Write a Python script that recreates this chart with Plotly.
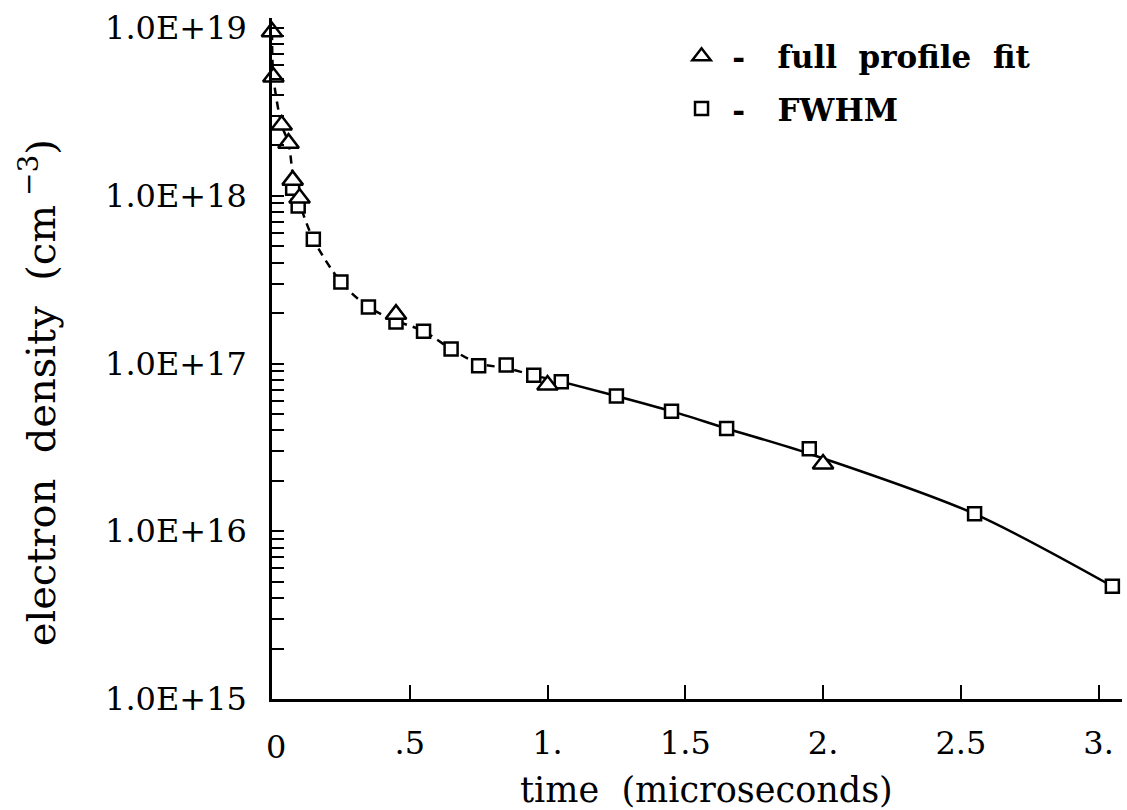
import plotly.graph_objects as go

# ---- data ----
tri_t = [0.0, 0.005, 0.035, 0.06, 0.075, 0.1, 0.45, 1.0, 2.0]
tri_n = [9.5e18, 5.1e18, 2.64e18, 2.06e18, 1.24e18, 9.7e17, 1.97e17, 7.45e16, 2.52e16]

sq_t = [0.075, 0.095, 0.15, 0.25, 0.35, 0.45, 0.55, 0.65, 0.75, 0.85, 0.95,
        1.05, 1.25, 1.45, 1.65, 1.95, 2.55, 3.05]
sq_n = [1.11e18, 8.7e17, 5.5e17, 3.06e17, 2.17e17, 1.77e17, 1.56e17, 1.22e17,
        9.7e16, 9.8e16, 8.5e16, 7.8e16, 6.4e16, 5.2e16, 4.1e16, 3.1e16, 1.27e16, 4.7e15]

# fitted curve (dashed part, then solid part)
fit1_t = [0.0, 0.005, 0.035, 0.06, 0.08, 0.1, 0.15, 0.25, 0.35, 0.45, 0.55,
          0.65, 0.75, 0.85, 0.95, 1.05]
fit1_n = [9.5e18, 5.1e18, 2.64e18, 2.06e18, 1.17e18, 9.0e17, 5.5e17, 3.06e17,
          2.17e17, 1.8e17, 1.56e17, 1.22e17, 1.0e17, 9.4e16, 8.5e16, 7.8e16]
fit2_t = [1.05, 1.25, 1.45, 1.65, 1.95, 2.55, 3.05]
fit2_n = [7.8e16, 6.4e16, 5.2e16, 4.1e16, 2.9e16, 1.27e16, 4.7e15]

y_tickvals = [1e15, 1e16, 1e17, 1e18, 1e19]
y_ticktext = ["1.0E+15", "1.0E+16", "1.0E+17", "1.0E+18", "1.0E+19"]
x_tickvals = [0, 0.5, 1.0, 1.5, 2.0, 2.5, 3.0]
x_ticktext = ["0", ".5", "1.", "1.5", "2.", "2.5", "3."]

FONT = "DejaVu Serif"
NB = "\u00a0"

fig = go.Figure()
fig.add_trace(go.Scatter(x=fit1_t, y=fit1_n, mode="lines", showlegend=False,
                         line=dict(color="black", width=2.5, dash="8px,6px", shape="spline",
                                   smoothing=0.8),
                         hoverinfo="skip"))
fig.add_trace(go.Scatter(x=fit2_t, y=fit2_n, mode="lines", showlegend=False,
                         line=dict(color="black", width=2.5, shape="spline", smoothing=0.8),
                         hoverinfo="skip"))
fig.add_trace(go.Scatter(x=sq_t, y=sq_n, mode="markers", legendgroup="b", legendrank=2,
                         name=f"{NB}-{NB}{NB}{NB}FWHM",
                         cliponaxis=False,
                         marker=dict(symbol="square", size=13, color="white",
                                     line=dict(color="black", width=2.5))))
fig.add_trace(go.Scatter(x=tri_t, y=tri_n, mode="markers", legendgroup="a", legendrank=1,
                         name=f"{NB}-{NB}{NB}{NB}full{NB}{NB}profile{NB}{NB}fit",
                         cliponaxis=False,
                         marker=dict(symbol="triangle-up", size=18, color="white",
                                     line=dict(color="black", width=2.5))))

fig.update_layout(
    width=1127, height=810,
    margin=dict(l=272, r=5, t=18, b=111),
    paper_bgcolor="white", plot_bgcolor="white",
    font=dict(family=FONT, color="black", size=32),
    legend=dict(x=0.4818, y=0.983, xanchor="left", yanchor="top",
                traceorder="grouped", bgcolor="rgba(0,0,0,0)",
                font=dict(family=FONT, size=31, color="black", weight="bold"),
                itemsizing="trace", tracegroupgap=9),
)
fig.update_xaxes(
    range=[0, 3.085], showgrid=False, zeroline=False,
    showline=True, linecolor="black", linewidth=2.5,
    ticks="inside", ticklen=14, tickwidth=2, tickcolor="black",
    tickvals=x_tickvals[1:], ticktext=x_ticktext[1:],
    tickfont=dict(family=FONT, size=32), ticklabelstandoff=14,
)
fig.update_yaxes(
    type="log", range=[15, 19.06], showgrid=False, zeroline=False,
    showline=True, linecolor="black", linewidth=2.5,
    ticks="inside", ticklen=12, tickwidth=2, tickcolor="black",
    tickvals=y_tickvals, ticktext=y_ticktext,
    tickfont=dict(family=FONT, size=32), ticklabelstandoff=16,
    minor=dict(ticks="inside", ticklen=12, tickwidth=2, tickcolor="black", dtick="D1",
               showgrid=False),
)
# "0" label at the origin of the time axis
fig.add_annotation(x=0, y=0, xref="x", yref="paper", text=x_ticktext[0], showarrow=False,
                   xanchor="center", yanchor="top", xshift=4, yshift=-27,
                   font=dict(family=FONT, size=32))
# axis titles
fig.add_annotation(x=0.5106, y=-0.1336, xref="paper", yref="paper", showarrow=False,
                   text=f"time{NB}{NB}(microseconds)", xanchor="center", yanchor="middle",
                   font=dict(family=FONT, size=35))
fig.add_annotation(x=-0.267, y=0.449, xref="paper", yref="paper", showarrow=False,
                   textangle=-90, xanchor="center", yanchor="middle", xshift=-7,
                   text=f"electron{NB}{NB}density{NB}{NB}(cm<sup>{NB}−3</sup>)",
                   font=dict(family=FONT, size=40))

fig.write_html("out.html")
